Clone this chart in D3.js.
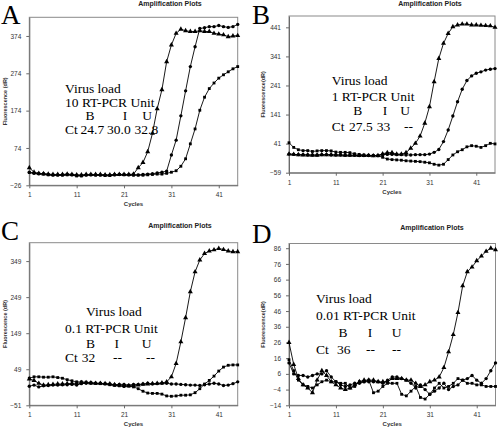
<!DOCTYPE html>
<html><head><meta charset="utf-8">
<script src="https://cdn.jsdelivr.net/npm/d3@7/dist/d3.min.js"></script>
<style>body{margin:0;background:#fff;} svg{display:block;}</style>
</head><body>
<svg id="chart" width="499" height="427"></svg>
<script>
// ---------- data ----------
const cycles = [1,2,3,4,5,6,7,8,9,10,11,12,13,14,15,16,17,18,19,20,21,22,23,24,25,26,27,28,29,30,31,32,33,34,35,36,37,38,39,40,41,42,43,44,45];
const xTicks = [1,11,21,31,41];
const yTicksA = [-26,74,174,274,374];
const yTicksB = [-59,41,141,241,341,441];
const yTicksC = [-51,49,149,249,349];
const yTicksD = [-14,-4,6,16,26,36,46,56,66,76,86];
const panelLetters = ["A","B","C","D"];
const loadLabels = ["10 RT-PCR Unit","1 RT-PCR Unit","0.1 RT-PCR Unit","0.01 RT-PCR Unit"];
const sampleNames = ["B","I","U"];
const ctValues = [["24.7","30.0","32.8"],["27.5","33","--"],["32","--","--"],["36","--","--"]];

// Panel A
const A_B = [21,9,6,5,4,3,3,3,4,3,2,2,3,3,3,3,2,2,3,3,3,3,4,21,35,64,113,179,230,305,350,381,392,388,386,386,388,386,386,381,379,377,372,374,375];
const A_I = [9,7,5,5,3,2,2,2,3,2,1,0,2,2,2,2,1,1,2,3,3,2,2,2,3,4,5,7,9,12,55,95,160,227,292,345,394,396,399,399,402,399,397,399,405];
const A_U = [8,6,5,4,2,1,1,1,2,2,-1,-1,1,2,1,1,0,0,2,3,2,2,1,1,1,2,3,4,4,6,9,13,25,45,85,125,175,210,233,248,261,270,278,286,292];
// Panel B
const B_B = [5,4,3,2,2,1,1,3,3,3,2,2,1,1,1,0,0,0,-1,0,6,10,10,5,5,10,25,42,67,111,168,254,334,386,420,443,449,452,452,449,449,448,447,446,441];
const B_I = [5,4,3,3,2,2,2,3,3,2,2,2,1,1,1,0,0,0,0,0,3,4,4,3,3,2,2,3,3,3,5,11,21,48,88,136,185,228,258,274,283,288,294,297,299];
const B_U = [44,28,20,17,17,14,16,17,17,16,12,11,11,10,6,4,2,1,0,-1,-6,-12,-14,-15,-16,-18,-19,-20,-21,-23,-25,-30,-33,-30,-14,2,13,20,30,34,32,28,34,42,40];
// Panel C
const C_B = [22,18,10,5,6,7,8,8,9,10,10,12,12,11,10,10,9,8,6,5,4,3,4,5,7,8,9,10,11,14,28,65,125,192,264,319,352,370,377,380,384,381,377,375,375];
const C_I = [2,5,0,3,4,5,5,6,6,7,5,9,10,10,10,10,9,8,6,7,7,5,7,7,8,10,8,9,10,10,8,8,7,6,5,5,4,6,8,10,8,4,5,9,14];
const C_U = [24,28,28,27,27,28,26,24,20,17,14,14,13,12,10,9,8,6,4,3,1,2,0,-5,-12,-17,-18,-18,-20,-25,-26,-25,-23,-23,-22,-16,-5,8,18,30,44,55,60,61,61];
// Panel D
const D_B = [26,12,3,-1,-3,-6,2,8,5,1,-1,-3,-4,-3,-1,1,2,2,2,1,1,1,3,3,3,2,2,0,-2,-1,1,2,4,10,20,31,45,62,71,74,78,81,84,86,85];
const D_I = [13,6,5,5,4,5,6,6,8,4,1,-1,-2,-1,0,0,1,1,1,1,0,2,4,4,3,2,0,-3,-1,-4,-7,-5,-3,0,-4,-2,-1,2,3,5,2,0,3,8,13];
const D_U = [15,8,2,-1,-2,-3,-1,1,2,1,1,0,0,-3,-2,1,1,2,-6,-5,-2,0,0,0,-7,-8,-5,-2,-9,-10,-7,-3,0,-3,-2,0,3,2,0,0,-1,-1,-2,-2,-2];

// ---------- layout ----------
const svg = d3.select("#chart");
const panels = [
  {left:29.3, right:237.7, top:17.3, bottom:185.3, yDom:[-26,424], ticks:yTicksA, series:[A_B,A_I,A_U], yTitle:"Fluorescence (dR)", yTitleX:5},
  {left:289,  right:495,   top:16,   bottom:172.7, yDom:[-59,480], ticks:yTicksB, series:[B_B,B_I,B_U], yTitle:"Fluorescence(dR)", yTitleX:263},
  {left:29.3, right:237.7, top:242.7,bottom:405.3, yDom:[-51,400], ticks:yTicksC, series:[C_B,C_I,C_U], yTitle:"Fluorescence (dR)", yTitleX:5},
  {left:289,  right:495.5, top:243.5,bottom:405.3, yDom:[-14,89],  ticks:yTicksD, series:[D_B,D_I,D_U], yTitle:"Fluorescence(dR)", yTitleX:263}
];
const titleCX = [170, 430, 180, 432];
const titleY  = [6, 6, 228, 230];
const letterPos = [[1,24],[252,24],[1,240],[252,243]];
const symbols = [d3.symbolTriangle, d3.symbolCircle, d3.symbolSquare];
const symSize = [11, 9, 8];

const annot = [
  {vx:65, lx:65, base:[93,106.5,120,133.5], bcx:[90,125,147], cx:65, vals:[80.5,107,134.5]},
  {vx:331.7, lx:331.7, base:[85,101,114.5,130.5], bcx:[357.7,385,405], cx:331.7, vals:[349,376.7,404]},
  {vx:86, lx:65, base:[315.5,333,347.5,362], bcx:[90.5,116.7,146.7], cx:65, vals:[81.7,113,146]},
  {vx:316, lx:316, base:[303,320,337,354], bcx:[343,370,396.7], cx:316, vals:[337,366,392]}
];

panels.forEach((p,pi)=>{
  const x = d3.scaleLinear().domain([1,45]).range([p.left,p.right]);
  const y = d3.scaleLinear().domain(p.yDom).range([p.bottom,p.top]);
  const g = svg.append("g");
  g.append("rect").attr("x",p.left).attr("y",p.top).attr("width",p.right-p.left).attr("height",p.bottom-p.top)
    .attr("fill","none").attr("stroke","#8a8a8a").attr("stroke-width",1);
  const ax = g.append("g").attr("transform",`translate(0,${p.bottom})`)
    .call(d3.axisBottom(x).tickValues(xTicks).tickSize(3).tickSizeOuter(0));
  const ay = g.append("g").attr("transform",`translate(${p.left},0)`)
    .call(d3.axisLeft(y).tickValues(p.ticks).tickSize(3).tickSizeOuter(0));
  [ax,ay].forEach(a=>{
    a.select(".domain").attr("stroke","#6a6a6a");
    a.selectAll(".tick line").attr("stroke","#6a6a6a");
    a.selectAll(".tick text").attr("font-family","Arial, 'Liberation Sans', sans-serif").attr("font-size","6.5px").attr("fill","#333");
  });
  ax.selectAll(".tick text").attr("dy","0.9em");
  ay.selectAll(".tick text").attr("dx","-2");
  g.append("text").attr("x",titleCX[pi]).attr("y",titleY[pi]).attr("text-anchor","middle")
    .attr("font-family","Arial, 'Liberation Sans', sans-serif").attr("font-weight","bold").attr("font-size","7px").attr("fill","#222")
    .text("Amplification Plots");
  g.append("text").attr("x",(p.left+p.right)/2).attr("y",p.bottom+21).attr("text-anchor","middle")
    .attr("font-family","Arial, 'Liberation Sans', sans-serif").attr("font-weight","bold").attr("font-size","6px").attr("fill","#333")
    .text("Cycles");
  g.append("text").attr("transform",`translate(${p.yTitleX},${(p.top+p.bottom)/2}) rotate(-90)`).attr("text-anchor","middle")
    .attr("dy","0.35em")
    .attr("font-family","Arial, 'Liberation Sans', sans-serif").attr("font-weight","bold").attr("font-size","5.5px").attr("fill","#333")
    .text(p.yTitle);
  g.append("text").attr("x",letterPos[pi][0]).attr("y",letterPos[pi][1])
    .attr("font-family","'Liberation Serif', 'Times New Roman', serif").attr("font-size","27px").attr("fill","#000")
    .text(panelLetters[pi]);
  const line = d3.line().x((d,i)=>x(cycles[i])).y(d=>y(d));
  p.series.forEach((s,si)=>{
    g.append("path").attr("d",line(s)).attr("fill","none").attr("stroke","#000").attr("stroke-width",0.9);
    g.selectAll(null).data(s).enter().append("path")
      .attr("transform",(d,i)=>`translate(${x(cycles[i])},${y(d)})`)
      .attr("d",d3.symbol().type(symbols[si]).size(symSize[si]))
      .attr("fill","#000");
  });
  const a = annot[pi];
  const tf = "'Liberation Serif', 'Times New Roman', serif";
  const t = (xx,yy,str,anchor)=>g.append("text").attr("x",xx).attr("y",yy).attr("text-anchor",anchor||"start")
     .attr("font-family",tf).attr("font-size","13.5px").attr("fill","#000").text(str);
  t(a.vx,a.base[0],"Virus load");
  t(a.lx,a.base[1],loadLabels[pi]);
  sampleNames.forEach((n,ni)=>t(a.bcx[ni],a.base[2],n,"middle"));
  t(a.cx,a.base[3],"Ct");
  ctValues[pi].forEach((v,vi)=>t(a.vals[vi],a.base[3],v));
});
</script>
</body></html>
